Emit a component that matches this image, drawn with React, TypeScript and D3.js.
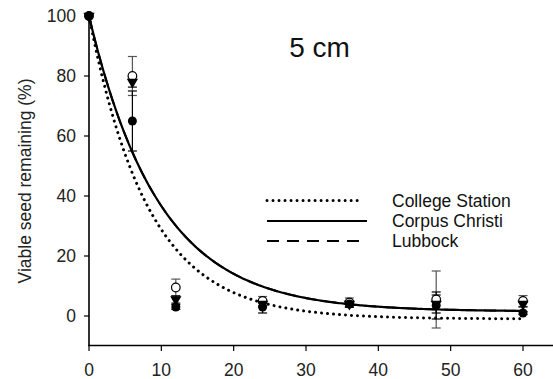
import React from "react";
import * as d3 from "d3";

const times = [0, 6, 12, 24, 36, 48, 60];
const csMean = [100, 65, 3, 3, 4, 3.5, 1];
const csErr = [0, 10, 0.8, 2, 1, 4.5, 0.5];
const ccMean = [100, 80, 9.5, 5, 4.5, 5.5, 5];
const ccErr = [0, 6.5, 2.8, 1.5, 1.5, 9.5, 1.8];
const lbMean = [100, 78, 5.5, 4, 4, 4, 4];
const lbErr = [0, 1.7, 1.2, 1, 1, 3, 1];

const xTicks = [0, 10, 20, 30, 40, 50, 60];
const yTicks = [0, 20, 40, 60, 80, 100];

// exponential decay fits: y = a * exp(-k t) + c
const csFit = { a: 101, k: 0.122, c: -1 };
const ccFit = { a: 98.5, k: 0.103, c: 1.5 };
const lbFit = { a: 98.5, k: 0.103, c: 1.5 };

const legendNames = ["College Station", "Corpus Christi", "Lubbock"];

const FONT = "'Liberation Sans', Arial, Helvetica, sans-serif";

export default function App() {
  const W = 553;
  const H = 379;
  const x = d3.scaleLinear().domain([0, 60]).range([89, 523]);
  const y = d3.scaleLinear().domain([-10, 100]).range([346, 16]);

  const tSamples = d3.range(0, 60.01, 0.25);
  const fitPath = (f: { a: number; k: number; c: number }) =>
    d3
      .line<number>()
      .x((t) => x(t))
      .y((t) => y(f.a * Math.exp(-f.k * t) + f.c))(tSamples) || "";

  const dotted = { strokeDasharray: "0.01 6", strokeLinecap: "round" as const, strokeWidth: 3 };
  const dashed = { strokeDasharray: "12 8", strokeWidth: 2 };

  const errBars = (means: number[], errs: number[], color: string, key: string) =>
    times.map((t, i) =>
      errs[i] > 0 ? (
        <g key={key + i} stroke={color} strokeWidth={1.2}>
          <line x1={x(t)} x2={x(t)} y1={y(means[i] - errs[i])} y2={y(means[i] + errs[i])} />
          <line x1={x(t) - 4.5} x2={x(t) + 4.5} y1={y(means[i] - errs[i])} y2={y(means[i] - errs[i])} />
          <line x1={x(t) - 4.5} x2={x(t) + 4.5} y1={y(means[i] + errs[i])} y2={y(means[i] + errs[i])} />
        </g>
      ) : null
    );

  const tri = d3.symbol().type(d3.symbolTriangle).size(55)() || "";

  return (
    <svg
      width={W}
      height={H}
      style={{ position: "absolute", left: 0, top: 0, background: "#fff" }}
      fontFamily={FONT}
    >
      {/* axes */}
      <line x1={89} x2={89} y1={15} y2={346} stroke="#000" strokeWidth={1.6} />
      <line x1={88.2} x2={553} y1={345.5} y2={345.5} stroke="#000" strokeWidth={1.6} />
      {yTicks.map((v) => (
        <g key={"yt" + v}>
          <line x1={84} x2={89} y1={y(v)} y2={y(v)} stroke="#000" strokeWidth={1.2} />
          <text x={76} y={y(v)} textAnchor="end" dominantBaseline="central" fontSize={17.5} fill="#222">
            {v}
          </text>
        </g>
      ))}
      {xTicks.map((v) => (
        <g key={"xt" + v}>
          <line x1={x(v)} x2={x(v)} y1={345.5} y2={351} stroke="#000" strokeWidth={1.2} />
          <text x={x(v)} y={375.5} textAnchor="middle" fontSize={17.5} fill="#222">
            {v}
          </text>
        </g>
      ))}
      <text
        transform={`translate(31,181) rotate(-90)`}
        textAnchor="middle"
        fontSize={17.5}
        fill="#222"
      >
        Viable seed remaining (%)
      </text>

      <text x={319.5} y={57} textAnchor="middle" fontSize={28} fill="#111">
        5 cm
      </text>

      {/* fitted curves */}
      <path d={fitPath(lbFit)} fill="none" stroke="#000" {...dashed} />
      <path d={fitPath(csFit)} fill="none" stroke="#000" {...dotted} />
      <path d={fitPath(ccFit)} fill="none" stroke="#000" strokeWidth={2.2} />

      {/* error bars */}
      {errBars(ccMean, ccErr, "#555", "cc")}
      {errBars(lbMean, lbErr, "#000", "lb")}
      {errBars(csMean, csErr, "#000", "cs")}

      {/* markers */}
      {times.map((t, i) => (
        <circle key={"cc" + i} cx={x(t)} cy={y(ccMean[i])} r={4.3} fill="#fff" stroke="#000" strokeWidth={1.2} />
      ))}
      {times.map((t, i) => (
        <path
          key={"lb" + i}
          d={tri}
          transform={`translate(${x(t)},${y(lbMean[i])}) rotate(180)`}
          fill="#000"
        />
      ))}
      {times.map((t, i) => (
        <circle key={"cs" + i} cx={x(t)} cy={y(csMean[i])} r={4.5} fill="#000" />
      ))}

      {/* legend */}
      {legendNames.map((name, i) => {
        const ly = [200.5, 221, 241][i];
        const style = i === 0 ? dotted : i === 1 ? { strokeWidth: 2.2 } : dashed;
        return (
          <g key={"lg" + i}>
            <line x1={267} x2={i === 0 ? 362 : i === 1 ? 367 : 359} y1={ly} y2={ly} stroke="#000" {...style} />
            <text x={392} y={ly} dominantBaseline="central" fontSize={17.5} fill="#111">
              {name}
            </text>
          </g>
        );
      })}
    </svg>
  );
}
